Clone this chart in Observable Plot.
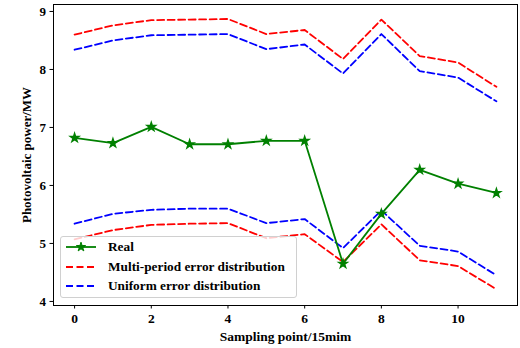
<!DOCTYPE html>
<html><head><meta charset="utf-8">
<script src="https://cdn.jsdelivr.net/npm/d3@7"></script>
<script src="https://cdn.jsdelivr.net/npm/@observablehq/plot@0.6"></script>
<style>
body{margin:0;background:#fff}
#wrap{position:relative;width:520px;height:348px;font-family:"Liberation Serif","Times New Roman",serif}
#legend{position:absolute;left:60px;top:236px;width:237px;height:62px;box-sizing:border-box;background:rgba(255,255,255,0.8);border:1px solid #d0d0d0;border-radius:3px;font-weight:bold;font-size:13.3px;color:#000}
.row{position:absolute;left:4px;display:flex;align-items:center;height:18px}
.row span{margin-left:11px;white-space:nowrap}
</style>
</head><body><div id="wrap"></div><script>
const samplingPoints = [0,1,2,3,4,5,6,7,8,9,10,11];
const realPower    = [6.82,6.73,7.01,6.71,6.71,6.77,6.77,4.65,5.51,6.27,6.03,5.87];
const multiUpper   = [8.60,8.76,8.85,8.86,8.87,8.61,8.68,8.18,8.86,8.23,8.12,7.70];
const multiLower   = [5.07,5.23,5.32,5.34,5.35,5.09,5.16,4.68,5.33,4.71,4.61,4.21];
const uniformUpper = [8.34,8.50,8.59,8.60,8.61,8.35,8.43,7.93,8.61,7.97,7.86,7.45];
const uniformLower = [5.34,5.51,5.58,5.60,5.60,5.35,5.42,4.92,5.57,4.96,4.86,4.45];
const xTicks = [0,2,4,6,8,10];
const yTicks = [4,5,6,7,8,9];
const seriesNames = ["Real","Multi-period error distribution","Uniform error distribution"];
const seriesColors = ["green","#ff0000","#0000ff"];

const rows = (vals) => samplingPoints.map((x,i)=>({x, y: vals[i]}));
const dash = {strokeDasharray:"7,3.5", strokeWidth:1.8};

const chart = Plot.plot({
  width:520, height:348,
  marginLeft:53, marginRight:3, marginTop:4, marginBottom:43,
  style:{fontFamily:'"Liberation Serif","Times New Roman",serif', fontSize:"12px", fontWeight:"bold", color:"#000", background:"#fff"},
  x:{domain:[-0.55,11.55]},
  y:{domain:[3.93,9.12]},
  marks:[
    Plot.line(rows(multiUpper), {x:"x", y:"y", stroke:seriesColors[1], ...dash}),
    Plot.line(rows(uniformUpper), {x:"x", y:"y", stroke:seriesColors[2], ...dash}),
    Plot.line(rows(multiLower), {x:"x", y:"y", stroke:seriesColors[1], ...dash}),
    Plot.line(rows(uniformLower), {x:"x", y:"y", stroke:seriesColors[2], ...dash}),
    Plot.line(rows(realPower), {x:"x", y:"y", stroke:seriesColors[0], strokeWidth:1.8}),
    Plot.dot(rows(realPower), {x:"x", y:"y", symbol:"star", fill:seriesColors[0], stroke:seriesColors[0], r:2.6}),
    Plot.frame({stroke:"#000", strokeWidth:1}),
    Plot.axisX({ticks:xTicks, tickSize:3.5, tickPadding:4, tickFormat:d=>String(d), label:"Sampling point/15mim", labelAnchor:"center", labelArrow:"none", labelOffset:35, fontSize:13.5}),
    Plot.axisY({ticks:yTicks, tickSize:3.5, tickPadding:4, tickFormat:d=>String(d), label:"Photovoltaic power/MW", labelAnchor:"center", labelArrow:"none", labelOffset:32, fontSize:13}),
  ]
});
const wrap = document.getElementById("wrap");
wrap.appendChild(chart);

const legend = document.createElement("div");
legend.id = "legend";
seriesNames.forEach((name,i)=>{
  const row = document.createElement("div");
  row.className = "row";
  row.style.top = (1 + i*19.5) + "px";
  const ns = "http://www.w3.org/2000/svg";
  const svg = document.createElementNS(ns,"svg");
  svg.setAttribute("width","32"); svg.setAttribute("height","12");
  const ln = document.createElementNS(ns,"line");
  ln.setAttribute("x1","1"); ln.setAttribute("x2","31"); ln.setAttribute("y1","6"); ln.setAttribute("y2","6");
  ln.setAttribute("stroke",seriesColors[i]); ln.setAttribute("stroke-width","1.8");
  if(i>0) ln.setAttribute("stroke-dasharray","7,3.5");
  svg.appendChild(ln);
  if(i===0){
    const star = d3.symbol(d3.symbolStar, 26)();
    const p = document.createElementNS(ns,"path");
    p.setAttribute("d",star); p.setAttribute("transform","translate(16,6)");
    p.setAttribute("fill",seriesColors[0]); p.setAttribute("stroke",seriesColors[0]);
    svg.appendChild(p);
  }
  row.appendChild(svg);
  const t = document.createElement("span");
  t.textContent = name;
  row.appendChild(t);
  legend.appendChild(row);
});
wrap.appendChild(legend);
</script></body></html>
